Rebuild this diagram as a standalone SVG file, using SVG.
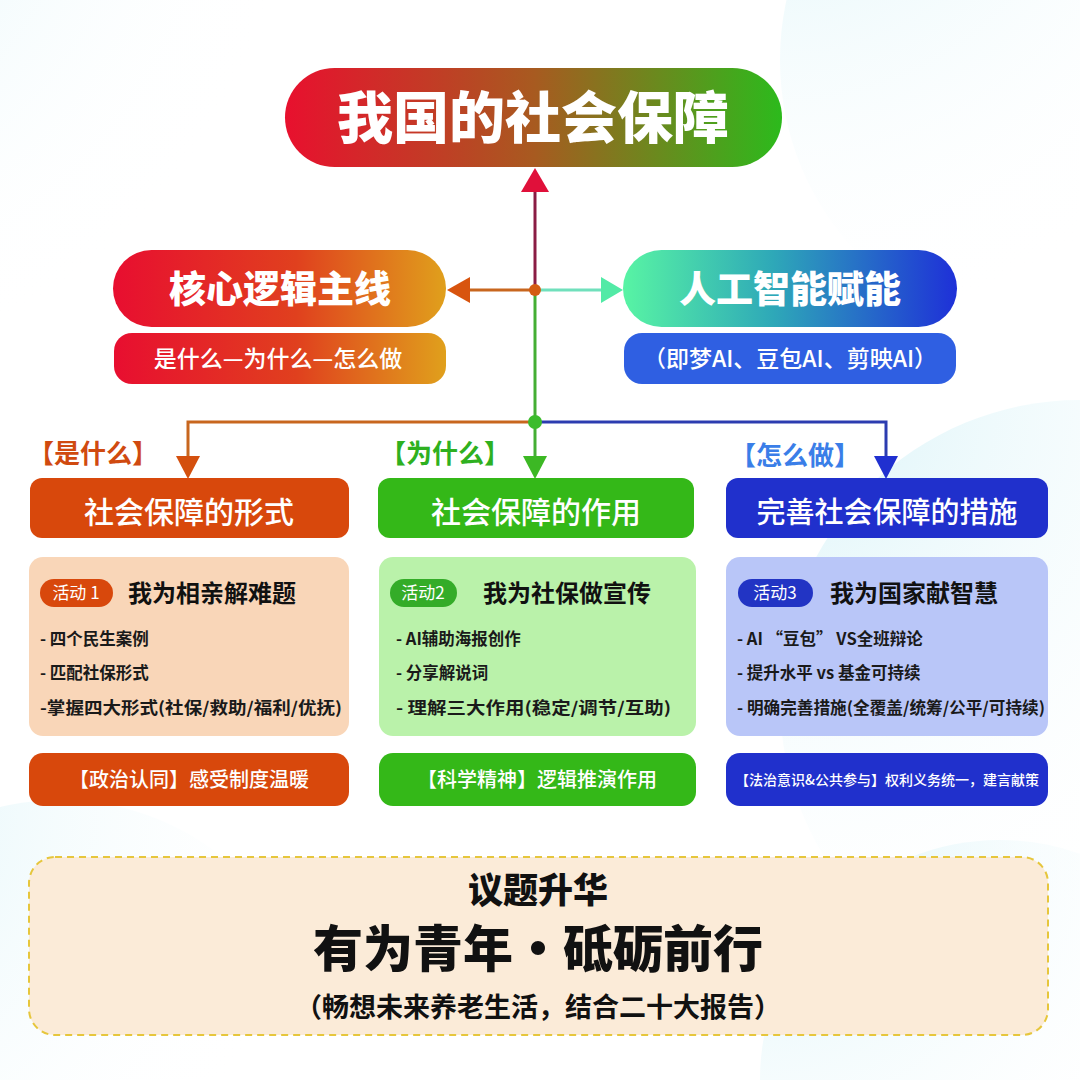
<svg xmlns="http://www.w3.org/2000/svg" width="1080" height="1080" viewBox="0 0 1080 1080">
<defs>
<linearGradient id="gTitle" x1="0" y1="0" x2="1" y2="0"><stop offset="0" stop-color="#e8102e"/><stop offset="0.5" stop-color="#a85a20"/><stop offset="1" stop-color="#2cba1c"/></linearGradient>
<linearGradient id="gLeft" x1="0" y1="0" x2="1" y2="0"><stop offset="0" stop-color="#e80e30"/><stop offset="0.55" stop-color="#e0401e"/><stop offset="1" stop-color="#e0a01c"/></linearGradient>
<linearGradient id="gRight" x1="0" y1="0" x2="1" y2="0"><stop offset="0" stop-color="#58f4a4"/><stop offset="0.45" stop-color="#2ea8b8"/><stop offset="1" stop-color="#1e30d8"/></linearGradient>
<radialGradient id="bg1" cx="0" cy="0" r="1"><stop offset="0" stop-color="#d8f3f8"/><stop offset="1" stop-color="#ffffff" stop-opacity="0"/></radialGradient>
<style>
.t{font-family:"Noto Sans CJK SC","Noto Sans",sans-serif;}
.w{fill:#ffffff;}
.b{font-weight:700;}
.k{fill:#111111;}
.bl{font-size:16.5px;font-weight:700;fill:#1a1a1a;}
</style>
</defs>
<rect width="1080" height="1080" fill="#ffffff"/>
<circle cx="40" cy="120" r="260" fill="url(#bg1)"/>
<circle cx="1060" cy="60" r="280" fill="url(#bg1)"/>
<circle cx="1080" cy="700" r="300" fill="url(#bg1)"/>
<circle cx="60" cy="1060" r="260" fill="url(#bg1)"/>
<circle cx="1000" cy="1080" r="240" fill="url(#bg1)"/>

<g id="connectors">
<line x1="535" y1="188" x2="535" y2="290" stroke="#8a1c44" stroke-width="3"/>
<polygon points="535,168 521,192 549,192" fill="#e0103a"/>
<line x1="535" y1="290" x2="466" y2="290" stroke="#c8661e" stroke-width="3"/>
<polygon points="447,290 470,277 470,303" fill="#d8540e"/>
<line x1="535" y1="290" x2="604" y2="290" stroke="#70e0bc" stroke-width="3"/>
<polygon points="623,290 601,277 601,303" fill="#52eaa6"/>
<line x1="535" y1="290" x2="535" y2="460" stroke="#44ae34" stroke-width="3"/>
<polyline points="535,422 188,422 188,460" fill="none" stroke="#c8661e" stroke-width="3"/>
<polyline points="535,422 886,422 886,460" fill="none" stroke="#2c3cb0" stroke-width="3"/>
<polygon points="188,479 176,456 200,456" fill="#d4500e"/>
<polygon points="535,479 523,456 547,456" fill="#3cb824"/>
<polygon points="886,479 874,456 898,456" fill="#2030d0"/>
<circle cx="535" cy="290" r="6" fill="#d45c12"/>
<circle cx="535" cy="422" r="7" fill="#3cbc2c"/>
</g>

<g id="title">
<rect x="285" y="68" width="497" height="99" rx="49.5" fill="url(#gTitle)"/>
<text x="533" y="138" text-anchor="middle" class="t w" font-size="56" font-weight="900">我国的社会保障</text>
</g>

<g id="core">
<rect x="113" y="250" width="333" height="77" rx="38.5" fill="url(#gLeft)"/>
<text x="280" y="303" text-anchor="middle" class="t w" font-size="37" font-weight="900">核心逻辑主线</text>
<rect x="114" y="333" width="332" height="51" rx="18" fill="url(#gLeft)"/>
<text x="278" y="367" text-anchor="middle" class="t w" font-size="23" font-weight="500">是什么—为什么—怎么做</text>
</g>

<g id="ai">
<rect x="623" y="250" width="334" height="77" rx="38.5" fill="url(#gRight)"/>
<text x="790" y="303" text-anchor="middle" class="t w" font-size="37" font-weight="900">人工智能赋能</text>
<rect x="624" y="333" width="332" height="51" rx="18" fill="#2f5fe2"/>
<text x="790" y="367" text-anchor="middle" class="t w" font-size="23" font-weight="500">（即梦AI、豆包AI、剪映AI）</text>
</g>

<g id="labels">
<text x="28" y="463" class="t b" font-size="26" fill="#d04a10">【是什么】</text>
<text x="380" y="463" class="t b" font-size="26" fill="#2eb020">【为什么】</text>
<text x="730" y="465" class="t b" font-size="26" fill="#3a7ee8">【怎么做】</text>
</g>

<g id="col1">
<rect x="30" y="478" width="319" height="60" rx="12" fill="#d8480c"/>
<text x="189" y="523" text-anchor="middle" class="t w" font-size="30" font-weight="500">社会保障的形式</text>
<rect x="29" y="557" width="320" height="179" rx="14" fill="#f9d6b8"/>
<rect x="40" y="579" width="73" height="28" rx="14" fill="#d8480c"/>
<text x="76" y="599" text-anchor="middle" class="t w" font-size="17">活动 1</text>
<text x="128" y="602" class="t b k" font-size="24">我为相亲解难题</text>
<text x="40" y="645" class="t bl">- 四个民生案例</text>
<text x="40" y="679" class="t bl">- 匹配社保形式</text>
<text x="40" y="714" class="t bl" textLength="302" lengthAdjust="spacingAndGlyphs">-掌握四大形式(社保/救助/福利/优抚)</text>
<rect x="29" y="753" width="320" height="53" rx="14" fill="#d8480c"/>
<text x="189" y="787" text-anchor="middle" class="t w" font-size="20" font-weight="500">【政治认同】感受制度温暖</text>
</g>

<g id="col2">
<rect x="378" y="478" width="316" height="60" rx="12" fill="#34b818"/>
<text x="536" y="523" text-anchor="middle" class="t w" font-size="30" font-weight="500">社会保障的作用</text>
<rect x="379" y="557" width="317" height="179" rx="14" fill="#baf2aa"/>
<rect x="390" y="579" width="67" height="28" rx="14" fill="#34ac28"/>
<text x="423" y="599" text-anchor="middle" class="t w" font-size="17">活动2</text>
<text x="483" y="602" class="t b k" font-size="24">我为社保做宣传</text>
<text x="396" y="645" class="t bl">- AI辅助海报创作</text>
<text x="396" y="679" class="t bl">- 分享解说词</text>
<text x="396" y="714" class="t bl" textLength="275" lengthAdjust="spacingAndGlyphs">- 理解三大作用(稳定/调节/互助)</text>
<rect x="379" y="753" width="317" height="53" rx="14" fill="#34b818"/>
<text x="537" y="787" text-anchor="middle" class="t w" font-size="20" font-weight="500">【科学精神】逻辑推演作用</text>
</g>

<g id="col3">
<rect x="726" y="478" width="322" height="60" rx="12" fill="#2030cc"/>
<text x="887" y="523" text-anchor="middle" class="t w" font-size="29" font-weight="500">完善社会保障的措施</text>
<rect x="726" y="557" width="322" height="179" rx="14" fill="#b9c6f8"/>
<rect x="738" y="579" width="75" height="28" rx="14" fill="#2234c4"/>
<text x="775" y="599" text-anchor="middle" class="t w" font-size="17">活动3</text>
<text x="830" y="602" class="t b k" font-size="24">我为国家献智慧</text>
<text x="737" y="645" class="t bl">- AI “豆包” VS全班辩论</text>
<text x="737" y="679" class="t bl">- 提升水平 vs 基金可持续</text>
<text x="737" y="714" class="t bl" textLength="308" lengthAdjust="spacingAndGlyphs">- 明确完善措施(全覆盖/统筹/公平/可持续)</text>
<rect x="726" y="753" width="322" height="53" rx="14" fill="#2030cc"/>
<text x="887" y="785" text-anchor="middle" class="t w" font-size="14" font-weight="500">【法治意识&amp;公共参与】权利义务统一，建言献策</text>
</g>

<g id="summary">
<rect x="29" y="857" width="1019" height="178" rx="26" fill="#fbebd8" stroke="#e6c63c" stroke-width="2" stroke-dasharray="7,5"/>
<text x="538" y="903" text-anchor="middle" class="t k" font-size="35" font-weight="900">议题升华</text>
<text x="538" y="967" text-anchor="middle" class="t k" font-size="50" font-weight="900">有为青年·砥砺前行</text>
<text x="538" y="1017" text-anchor="middle" class="t k" font-size="27" font-weight="700">（畅想未来养老生活，结合二十大报告）</text>
</g>
</svg>
